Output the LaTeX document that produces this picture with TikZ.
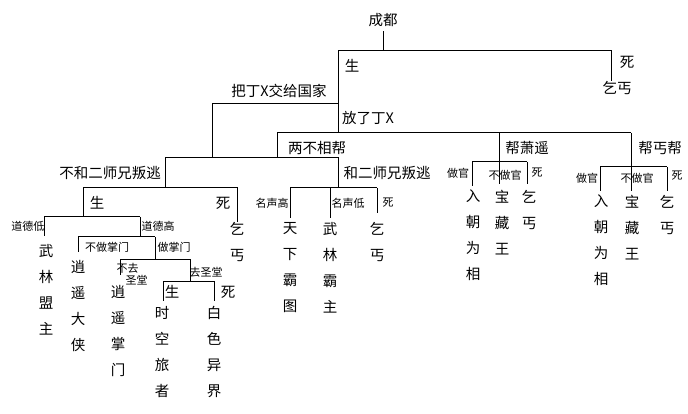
\documentclass[tikz,border=0pt]{standalone}
\usepackage{fontspec}
\setmainfont{Noto Sans CJK SC}

\begin{document}
\begin{tikzpicture}[x=1pt,y=-1pt,line width=1pt,
	lbl/.style={inner sep=0pt,font=\fontsize{14.5}{15}\selectfont},
	tag/.style={inner sep=0pt,font=\fontsize{11}{12}\selectfont},
	col/.style={inner sep=0pt,anchor=north,align=center,font=\fontsize{14.5}{26}\selectfont}]
\useasboundingbox (0,0) rectangle (688,414);
% labels on the branches
\node[lbl](chengdu) at (383,20){成都};
\node[lbl](sheng) at (352,66){生};
\node[lbl](si) at (627,62){死};
\node[lbl](qigai) at (617,88){乞丐};
\node[lbl](give) at (279,91){把丁X交给国家};
\node[lbl](release) at (368,118){放了丁X};
\node[lbl](neither) at (317,148){两不相帮};
\node[lbl](helpxiao) at (527,148){帮萧遥};
\node[lbl](helpgai) at (660,148){帮丐帮};
\node[lbl](stay) at (110,173){不和二师兄叛逃};
\node[lbl](flee) at (387,173){和二师兄叛逃};
\node[lbl](stayalive) at (97,203){生};
\node[lbl](staydead) at (223,203){死};
\node[lbl](holyalive) at (172,292){生};
\node[lbl](holydead) at (228,292){死};
\node[tag](lowmoral) at (28,226){道德低};
\node[tag](highmoral) at (158,226){道德高};
\node[tag](nolead) at (107,247){不做掌门};
\node[tag](lead) at (174,247){做掌门};
\node[tag,align=left](nohall) at (132,274){不去\\\hspace{9pt}圣堂};
\node[tag](hall) at (206,272){去圣堂};
\node[tag](famehigh) at (272,203){名声高};
\node[tag](famelow) at (348,203){名声低};
\node[tag](fleedead) at (388,203){死};
\node[tag](officer) at (458,173){做官};
\node[tag](nooffice) at (505,175){不做官};
\node[tag](xiaodead) at (537,173){死};
\node[tag](officerb) at (587,178){做官};
\node[tag](noofficeb) at (637,178){不做官};
\node[tag](gaidead) at (677,176){死};
% endings, written top to bottom
\node[col](mengzhu) at (46,244){武\\林\\盟\\主};
\node[col](daxia) at (78,260){逍\\遥\\大\\侠};
\node[col](zhangmen) at (118,285){逍\\遥\\掌\\门};
\node[col](traveler) at (162,306){时\\空\\旅\\者};
\node[col](otherworld) at (214,306){白\\色\\异\\界};
\node[col](beggar) at (237,222){乞\\丐};
\node[col](bawang) at (290,222){天\\下\\霸\\图};
\node[col](bazhu) at (330,222){武\\林\\霸\\主};
\node[col](beggarb) at (377,222){乞\\丐};
\node[col](minister) at (473,189){入\\朝\\为\\相};
\node[col](treasure) at (502,190){宝\\藏\\王};
\node[col](beggarc) at (529,190){乞\\丐};
\node[col](ministerb) at (601,194){入\\朝\\为\\相};
\node[col](treasureb) at (632,195){宝\\藏\\王};
\node[col](beggard) at (667,195){乞\\丐};
% junctions
\coordinate (r1) at (338,51); \coordinate (r2) at (611,51);
\coordinate (g1) at (212,104); \coordinate (g2) at (338,104);
\coordinate (n1) at (277,133); \coordinate (n2) at (338,133);
\coordinate (n3) at (499,133); \coordinate (n4) at (631,133);
\coordinate (s1) at (165,158); \coordinate (s2) at (212,158);
\coordinate (s3) at (277,158); \coordinate (s4) at (338,158);
\coordinate (a1) at (83,188); \coordinate (a2) at (165,188); \coordinate (a3) at (237,188);
\coordinate (m1) at (44,217); \coordinate (m2) at (83,217); \coordinate (m3) at (140,217);
\coordinate (p1) at (78,237); \coordinate (p2) at (140,237); \coordinate (p3) at (155,237);
\coordinate (h1) at (120,259); \coordinate (h2) at (155,259); \coordinate (h3) at (190,259);
\coordinate (t1) at (163,281); \coordinate (t2) at (190,281); \coordinate (t3) at (214,281);
\coordinate (f1) at (290,188); \coordinate (f2) at (330,188);
\coordinate (f3) at (338,188); \coordinate (f4) at (377,188);
\coordinate (x1) at (472,162); \coordinate (x2) at (499,162); \coordinate (x3) at (527,162);
\coordinate (y1) at (600,167); \coordinate (y2) at (631,167); \coordinate (y3) at (667,167);
% tree lines
\draw[shorten <=4pt] (chengdu.south) -- (chengdu.south |- r1);
\draw (r1) -- (r2) -- (r2 |- qigai.north);
\draw (r1) -- (n2);
\draw (g2) -- (g1) -- (s2);
\draw (n1) -- (n4);
\draw (n1) -- (s3);
\draw (s1) -- (s4) -- (f3);
\draw (s1) -- (a2);
\draw (a1) -- (a3) -- (a3 |- beggar.north);
\draw (a1) -- (m2);
\draw (m1) -- (m3);
\draw[shorten >=8pt] (m1) -- (m1 |- mengzhu.north);
\draw (m3) -- (p2);
\draw (p1) -- (p3);
\draw[shorten >=8pt] (p1) -- (p1 |- daxia.north);
\draw (p3) -- (h2);
\draw (h1) -- (h3);
\draw[shorten >=10pt] (h1) -- (h1 |- zhangmen.north);
\draw (h3) -- (t2);
\draw (t1) -- (t3);
\draw[shorten >=5pt] (t1) -- (t1 |- traveler.north);
\draw[shorten >=5pt] (t3) -- (t3 |- otherworld.north);
\draw (f1) -- (f4);
\draw[shorten >=4pt] (f1) -- (f1 |- bawang.north);
\draw[shorten >=4pt] (f2) -- (f2 |- bazhu.north);
\draw[shorten >=9pt] (f4) -- (f4 |- beggarb.north);
\draw[shorten >=6pt] (n3) -- (n3 |- treasure.north);
\draw (x1) -- (x3);
\draw[shorten >=3pt] (x1) -- (x1 |- minister.north);
\draw[shorten >=6pt] (x3) -- (x3 |- beggarc.north);
\draw[shorten >=4pt] (n4) -- (n4 |- treasureb.north);
\draw (y1) -- (y3);
\draw[shorten >=3pt] (y1) -- (y1 |- ministerb.north);
\draw[shorten >=4pt] (y3) -- (y3 |- beggard.north);
\end{tikzpicture}
\end{document}
